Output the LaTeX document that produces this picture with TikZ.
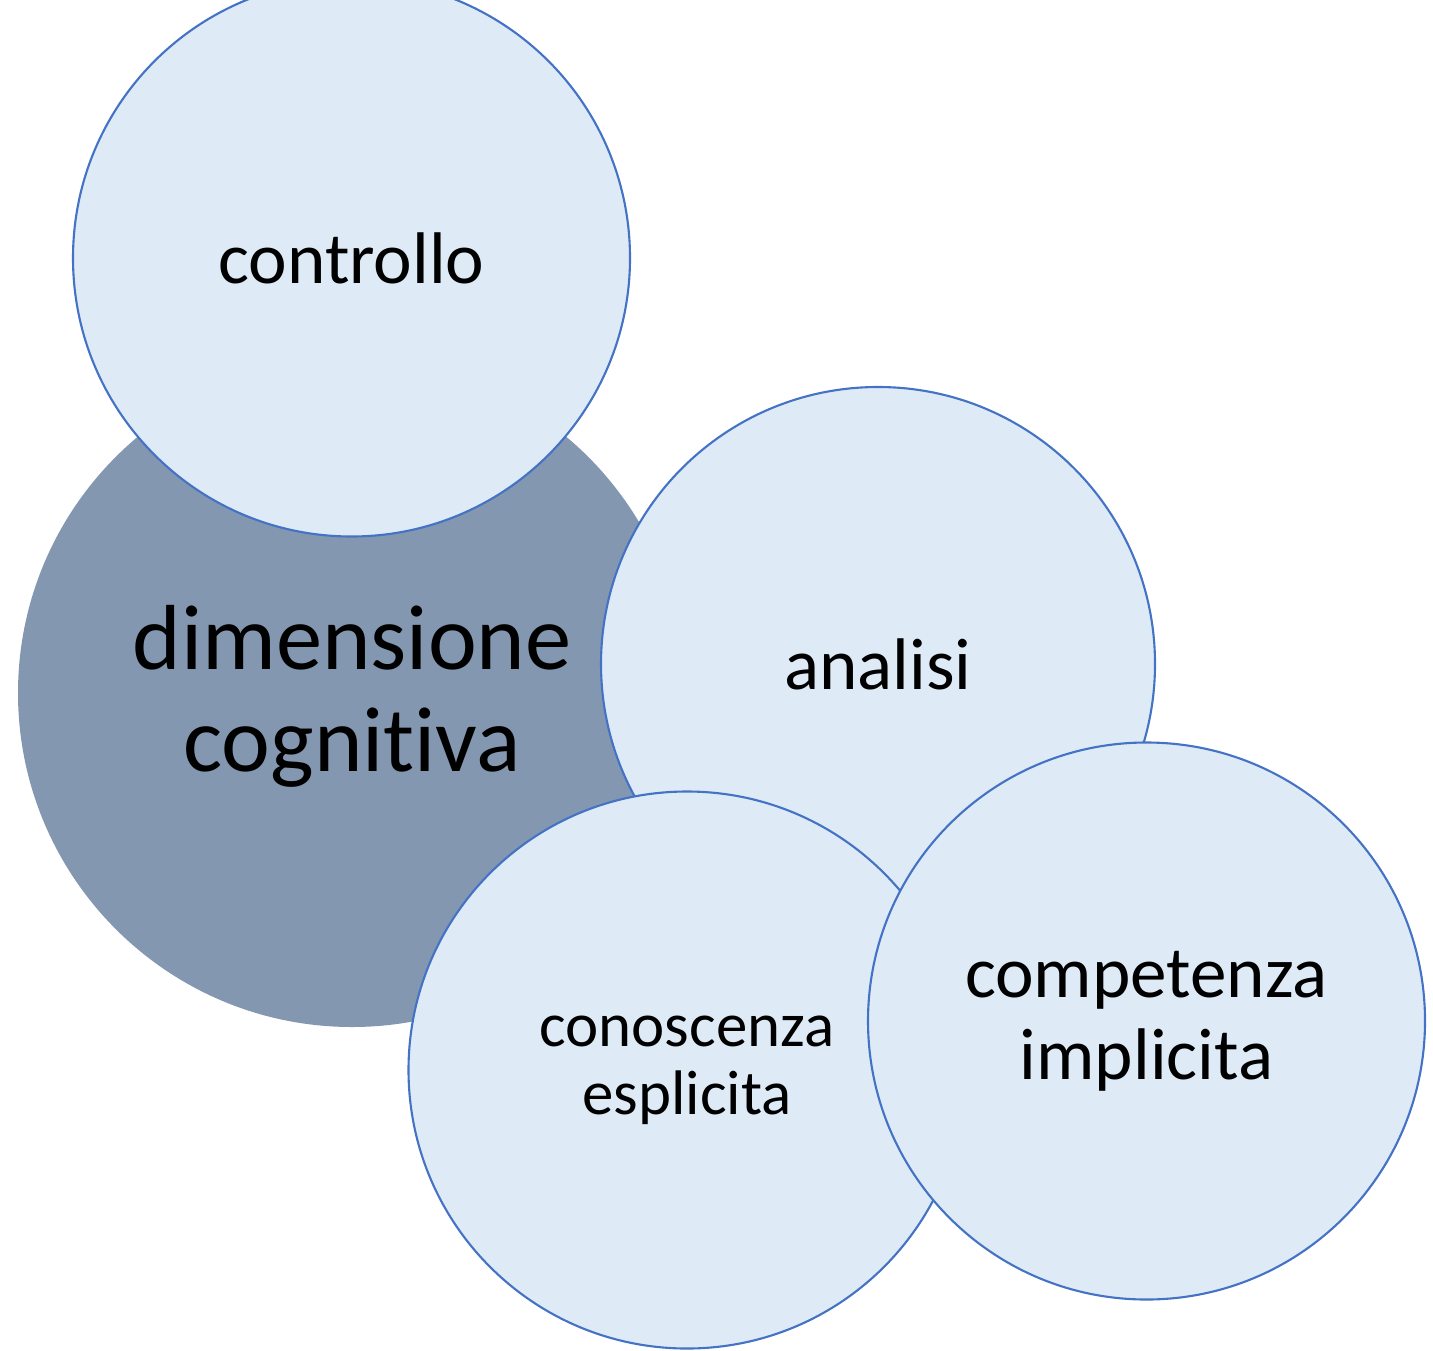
\documentclass[tikz,border=0pt]{standalone}
\usepackage{fontspec}
\setmainfont{Carlito}[Ligatures=NoCommon]
\usepackage{xcolor}
\usepackage{tikz}
\definecolor{slate}{HTML}{8497B0}
\definecolor{pale}{HTML}{DEEBF7}
\definecolor{rim}{HTML}{4472C4}
\definecolor{ink}{HTML}{000000}
\tikzset{
  core/.style={circle, fill=slate, draw=none, minimum size=6.68cm, inner sep=0pt, text=ink, align=center},
  leaf/.style={circle, fill=pale, draw=rim, line width=0.6pt, minimum size=5.57cm, inner sep=0pt, text=ink, align=center},
  big/.style={font=\fontsize{26.3}{29}\selectfont},
  mid/.style={font=\fontsize{20.8}{23.3}\selectfont},
  small/.style={font=\fontsize{17.9}{19.3}\selectfont},
}
\begin{document}
\begin{tikzpicture}
\useasboundingbox (0,0) rectangle (14.33,13.5);
\clip (0,0) rectangle (14.33,13.5);

\node[core, big, text depth=0.1cm] (dim) at (3.52,6.57) {dimensione\\cognitiva};
\node[leaf, mid] (contr) at (3.515,10.92) {controllo};
\node[leaf, mid, minimum size=5.54cm] (anal) at (8.78,6.86) {analisi};
\node[leaf, small] (conosc) at (6.87,2.80) {conoscenza\\esplicita};
\node[leaf, mid] (compet) at (11.465,3.29) {competenza\\implicita};
\end{tikzpicture}
\end{document}
